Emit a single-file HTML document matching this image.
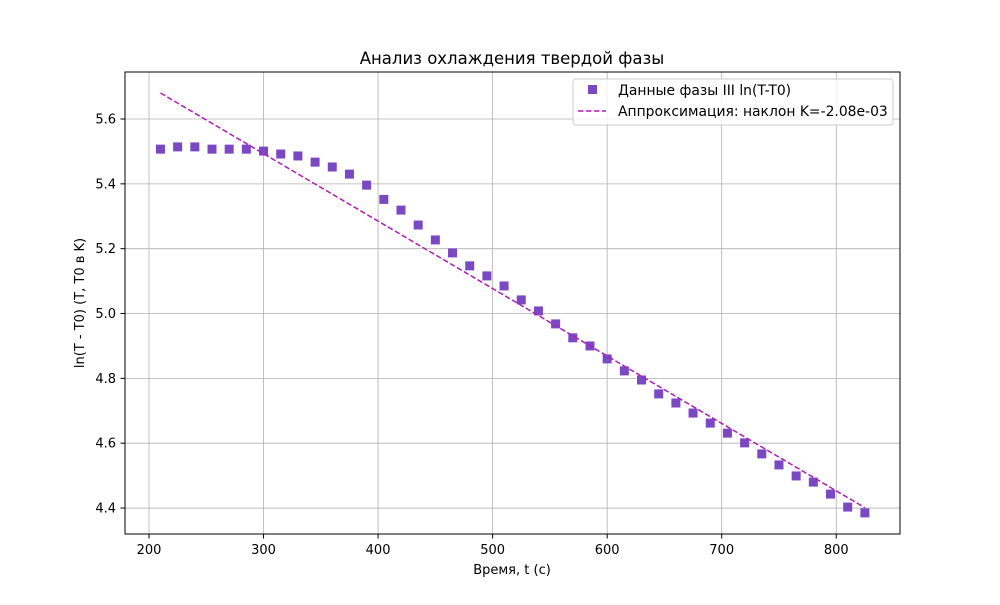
<!DOCTYPE html>
<html><head><meta charset="utf-8"><style>
body{margin:0;background:#fff;font-family:"Liberation Sans","DejaVu Sans",sans-serif}
</style></head><body>
<svg id="c" width="1000" height="600" xmlns="http://www.w3.org/2000/svg" font-family="DejaVu Sans, Liberation Sans, sans-serif">
<text x="512" y="64" text-anchor="middle" font-size="16.5">Анализ охлаждения твердой фазы</text>
<g id="grid"></g>
<g id="marks"></g>
<rect x="125" y="72" width="775" height="462" fill="none" stroke="#000" stroke-width="1"/>
<g id="ticks"></g>
<text x="512" y="574" text-anchor="middle" font-size="13">Время, t (c)</text>
<text transform="translate(84,303) rotate(-90)" text-anchor="middle" font-size="13">ln(T - T0) (T, T0 в K)</text>
<g>
<rect x="573" y="79" width="320" height="46" fill="#fff" fill-opacity="0.8" stroke="#ccc" rx="3"/>
<rect x="588" y="85" width="9" height="9" fill="#7b48c4"/>
<text x="618" y="95" font-size="13.9">Данные фазы III ln(T-T0)</text>
<line x1="578" y1="111" x2="606" y2="111" stroke="#b01cb8" stroke-width="1.5" stroke-dasharray="5.5,2.5"/>
<text x="618" y="116" font-size="13.9">Аппроксимация: наклон K=-2.08e-03</text>
</g>
</svg>
<script>
const times=[210,225,240,255,270,285,300,315,330,345,360,375,390,405,420,435,450,465,480,495,510,525,540,555,570,585,600,615,630,645,660,675,690,705,720,735,750,765,780,795,810,825];
const lnValues=[5.507,5.514,5.514,5.507,5.507,5.507,5.501,5.492,5.486,5.467,5.452,5.430,5.396,5.352,5.319,5.273,5.227,5.187,5.147,5.116,5.085,5.042,5.008,4.968,4.925,4.900,4.860,4.823,4.795,4.752,4.724,4.693,4.662,4.631,4.601,4.567,4.533,4.499,4.480,4.443,4.403,4.385];
const fitSlope=-0.00208;
const fitIntercept=6.117;
const xTicks=[200,300,400,500,600,700,800];
const yTicks=[4.4,4.6,4.8,5.0,5.2,5.4,5.6];
const NS="http://www.w3.org/2000/svg";
const X=v=>149+(v-200)*1.1454;
const Y=v=>119+(5.6-v)*324.2;
function mk(t,a,p){const e=document.createElementNS(NS,t);for(const k in a)e.setAttribute(k,a[k]);p.appendChild(e);return e;}
const grid=document.getElementById('grid'),ticks=document.getElementById('ticks'),marks=document.getElementById('marks');
xTicks.forEach(t=>{const x=X(t);
let g=mk('line',{x1:x,x2:x,y1:72,y2:534,stroke:'#b0b0b0','stroke-width':0.8},grid);


let l=mk('line',{x1:x,x2:x,y1:534,y2:538.5,stroke:'#000'},ticks);


let s=mk('text',{x:x,y:554,'text-anchor':'middle','font-size':13},ticks);s.textContent=t;


});
yTicks.forEach(t=>{const y=Y(t);
let g=mk('line',{x1:125,x2:900,y1:y,y2:y,stroke:'#b0b0b0','stroke-width':0.8},grid);


let l=mk('line',{x1:120.5,x2:125,y1:y,y2:y,stroke:'#000'},ticks);


let s=mk('text',{x:116,y:y+4.5,'text-anchor':'end','font-size':13},ticks);s.textContent=t.toFixed(1);


});
times.forEach((t,i)=>{
let r=mk('rect',{x:X(t)-4.5,y:Y(lnValues[i])-4.5,width:9,height:9,fill:'#7b48c4'},marks);


});
const t0=times[0],t1=times[times.length-1];
let fl=mk('line',{x1:X(t0),y1:Y(fitIntercept+fitSlope*t0),x2:X(t1),y2:Y(fitIntercept+fitSlope*t1),stroke:'#b01cb8','stroke-width':1.5,'stroke-dasharray':'5.5,2.5'},marks);


</script>
</body></html>
